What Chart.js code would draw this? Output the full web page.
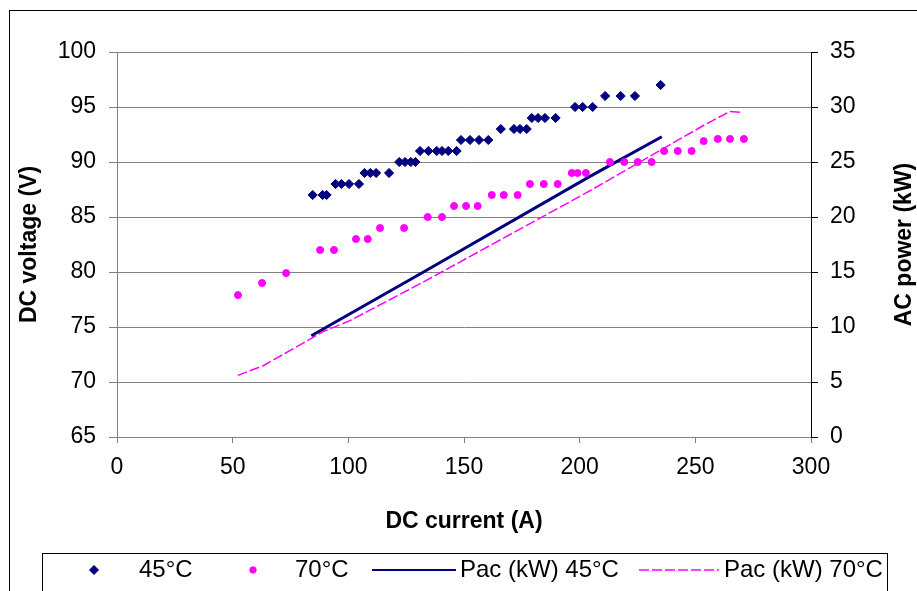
<!DOCTYPE html>
<html>
<head>
<meta charset="utf-8">
<script src="https://cdn.jsdelivr.net/npm/chart.js@4.4.1/dist/chart.umd.min.js"></script>
<style>
html,body{margin:0;padding:0;background:#ffffff;overflow:hidden}
#c{display:block}
</style>
</head>
<body>
<canvas id="c" width="917" height="591"></canvas>
<script>
// ---- data ----
const current45 = [84.6, 88.9, 90.6, 94.5, 97.0, 100.3, 104.6, 107.0, 109.5, 112.0, 117.6,
  122.0, 124.5, 127.0, 129.0, 131.0, 134.6, 138.2, 140.5, 143.2, 146.8,
  148.7, 152.6, 156.5, 160.5, 165.9, 171.6, 174.2, 177.1, 179.3, 182.0, 185.0, 189.6,
  198.0, 201.3, 205.6, 211.0, 217.7, 223.9, 235.0];
const voltage45 = [87, 87, 87, 88, 88, 88, 88, 89, 89, 89, 89,
  90, 90, 90, 90, 91, 91, 91, 91, 91, 91,
  92, 92, 92, 92, 93, 93, 93, 93, 94, 94, 94, 94,
  95, 95, 95, 96, 96, 96, 97];
const current70 = [52.3, 62.7, 73.1, 87.8, 93.8, 103.3, 108.4, 113.7, 124.1, 134.3, 140.5,
  145.7, 150.9, 155.9, 162.0, 167.2, 173.2, 178.5, 184.5, 190.5, 196.6, 199.1, 202.7,
  213.1, 219.3, 225.1, 231.1, 236.5, 242.4, 248.4, 253.6, 259.7, 265.0, 271.0];
const voltage70 = [77.9, 79, 79.9, 82, 82, 83, 83, 84, 84, 85, 85,
  86, 86, 86, 87, 87, 87, 88, 88, 88, 89, 89, 89,
  90, 90, 90, 90, 91, 91, 91, 91.9, 92.1, 92.1, 92.1];
const pacCurrent45 = [84.0, 132.5, 203.7, 235.5];
const pac45 = [9.2, 15.0, 23.6, 27.3];
const pacCurrent70 = [52.2, 63.4, 79.3, 89.3, 100.9, 132.5, 203.7, 254.2, 265.0, 270.0];
const pac70 = [5.6, 6.5, 8.4, 9.6, 10.6, 14.1, 22.3, 28.4, 29.6, 29.5];
const seriesNames = ['45°C', '70°C', 'Pac (kW) 45°C', 'Pac (kW) 70°C'];
const xTicks = [0, 50, 100, 150, 200, 250, 300];
const yTicks = [65, 70, 75, 80, 85, 90, 95, 100];
const y1Ticks = [0, 5, 10, 15, 20, 25, 30, 35];
const xTitle = 'DC current (A)';
const yTitle = 'DC voltage (V)';
const y1Title = 'AC power (kW)';

// ---- helpers ----
const zip = (xs, ys) => xs.map((x, i) => ({x: x, y: ys[i]}));
const FONT = '"Liberation Sans", Arial, sans-serif';
const NAVY = '#000080';
const MAGENTA = '#FF00FF';
const GRID = '#808080';
const setTicks = arr => function (scale) { scale.ticks = arr.map(v => ({value: v})); };

const frame = {
  id: 'frame',
  beforeDraw(chart) {
    const ctx = chart.ctx;
    ctx.save();
    ctx.fillStyle = '#ffffff';
    ctx.fillRect(0, 0, chart.width, chart.height);
    ctx.strokeStyle = '#000000';
    ctx.lineWidth = 1;
    ctx.strokeRect(9.5, 10.5, 1200, 1200);
    ctx.restore();
  }
};

// right-axis title reads bottom-to-top, as in the reference
const rightTitle = {
  id: 'rightTitle',
  afterDraw(chart) {
    const s = chart.scales.y1;
    const ctx = chart.ctx;
    ctx.save();
    ctx.font = 'bold 23px ' + FONT;
    ctx.fillStyle = '#000000';
    ctx.textAlign = 'center';
    ctx.textBaseline = 'middle';
    ctx.translate(s.right - 12, (s.top + s.bottom) / 2);
    ctx.rotate(-Math.PI / 2);
    ctx.fillText(y1Title, 0, 0);
    ctx.restore();
  }
};

const legendPlugin = {
  id: 'customLegend',
  afterDraw(chart) {
    const ctx = chart.ctx;
    const ds = chart.data.datasets;
    ctx.save();
    ctx.strokeStyle = '#000000';
    ctx.lineWidth = 1;
    ctx.strokeRect(42.5, 553.5, 845, 80);
    ctx.font = '24px ' + FONT;
    ctx.fillStyle = '#000000';
    ctx.textBaseline = 'middle';
    ctx.textAlign = 'left';
    const y = 570;
    const layout = [
      {mx: 94, tx: 139},
      {mx: 253, tx: 295},
      {l0: 372, l1: 456, tx: 460},
      {l0: 639, l1: 719, tx: 724}
    ];
    layout.forEach((it, i) => {
      const d = ds[i];
      if (it.mx !== undefined) {
        ctx.save();
        ctx.fillStyle = d.backgroundColor;
        ctx.strokeStyle = d.borderColor;
        ctx.lineWidth = 1;
        Chart.helpers.drawPoint(ctx, {pointStyle: d.pointStyle, radius: i === 0 ? 4.5 : 3.2, borderWidth: 1, rotation: 0}, it.mx, y);
        ctx.restore();
      } else {
        ctx.save();
        ctx.strokeStyle = d.borderColor;
        ctx.lineWidth = i === 2 ? 2 : 1.5;
        ctx.setLineDash(d.borderDash || []);
        ctx.beginPath();
        ctx.moveTo(it.l0, y);
        ctx.lineTo(it.l1, y);
        ctx.stroke();
        ctx.restore();
      }
      ctx.fillText(d.label, it.tx, y);
    });
    ctx.restore();
  }
};

new Chart(document.getElementById('c'), {
  type: 'scatter',
  data: {
    datasets: [
      {label: seriesNames[0], data: zip(current45, voltage45), yAxisID: 'y', pointStyle: 'rectRot',
       pointRadius: 4.6, pointHoverRadius: 4.6, backgroundColor: NAVY, borderColor: NAVY, borderWidth: 1, showLine: false},
      {label: seriesNames[1], data: zip(current70, voltage70), yAxisID: 'y', pointStyle: 'circle',
       pointRadius: 3.5, pointHoverRadius: 3.5, backgroundColor: MAGENTA, borderColor: MAGENTA, borderWidth: 1, showLine: false},
      {label: seriesNames[2], data: zip(pacCurrent45, pac45), yAxisID: 'y1', showLine: true, pointRadius: 0,
       borderColor: NAVY, backgroundColor: NAVY, borderWidth: 3, tension: 0, fill: false},
      {label: seriesNames[3], data: zip(pacCurrent70, pac70), yAxisID: 'y1', showLine: true, pointRadius: 0,
       borderColor: MAGENTA, backgroundColor: MAGENTA, borderWidth: 1.5, borderDash: [10, 3], tension: 0, fill: false}
    ]
  },
  options: {
    responsive: false,
    animation: false,
    devicePixelRatio: 1,
    layout: {padding: {top: 52, left: 0, right: 0, bottom: 0}},
    plugins: {legend: {display: false}, tooltip: {enabled: false}},
    scales: {
      x: {
        type: 'linear', position: 'bottom', min: 0, max: 300,
        afterBuildTicks: setTicks(xTicks),
        afterFit(s) { s.height = 154; },
        grid: {drawOnChartArea: false, drawTicks: true, tickLength: 6, color: GRID, lineWidth: 1},
        border: {display: true, color: GRID, width: 1},
        ticks: {font: {family: FONT, size: 23}, color: '#000', padding: 11, maxRotation: 0},
        title: {display: true, text: xTitle, color: '#000', font: {family: FONT, size: 23, weight: 'bold'}, padding: {top: 0, bottom: 56}}
      },
      y: {
        type: 'linear', position: 'left', min: 65, max: 100,
        afterBuildTicks: setTicks(yTicks),
        afterFit(s) { s.width = 117; },
        grid: {drawOnChartArea: true, drawTicks: true, tickLength: 8, color: GRID, lineWidth: 1},
        border: {display: true, color: GRID, width: 1},
        ticks: {font: {family: FONT, size: 23}, color: '#000', padding: 13},
        title: {display: true, text: yTitle, color: '#000', font: {family: FONT, size: 23, weight: 'bold'}, padding: {top: 16, bottom: 0}}
      },
      y1: {
        type: 'linear', position: 'right', min: 0, max: 35,
        afterBuildTicks: setTicks(y1Ticks),
        afterFit(s) { s.width = 106; },
        grid: {drawOnChartArea: false, drawTicks: true, tickLength: 7, color: '#000', lineWidth: 1},
        border: {display: true, color: '#000', width: 1},
        ticks: {font: {family: FONT, size: 23}, color: '#000', padding: 12},
        title: {display: false, text: y1Title}
      }
    }
  },
  plugins: [frame, legendPlugin, rightTitle]
});
</script>
</body>
</html>
